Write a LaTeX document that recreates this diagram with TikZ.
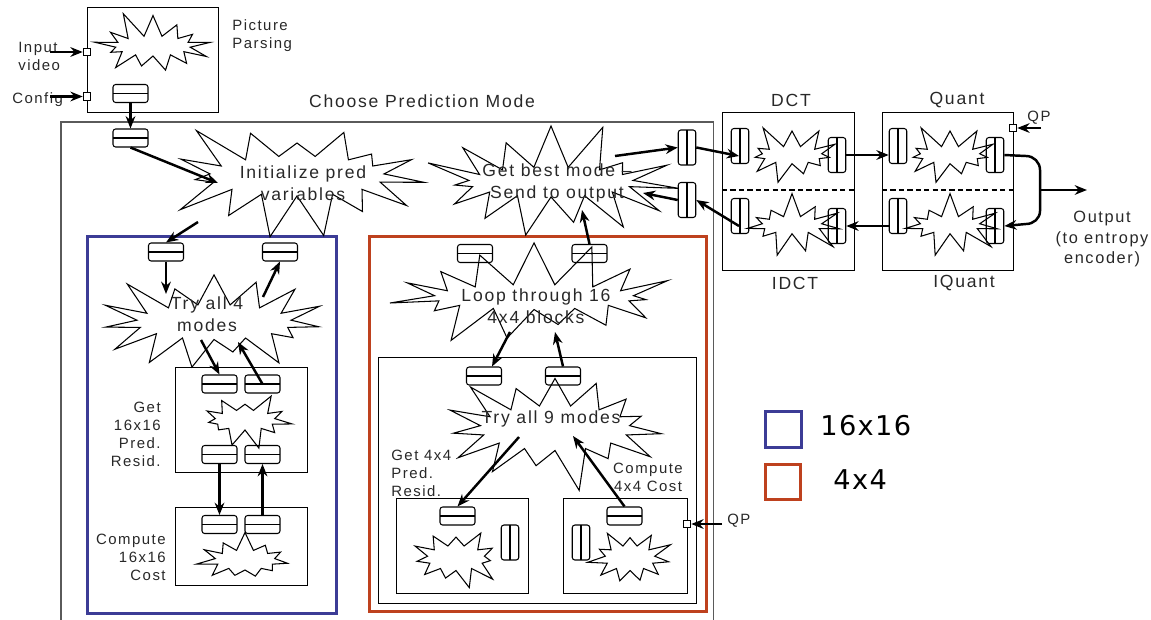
\documentclass[tikz,border=0pt]{standalone}
\usepackage{fontspec}
\setmainfont{Liberation Sans}[LetterSpace=10]
\newfontfamily\legendfont{DejaVu Sans}[LetterSpace=5]
\usetikzlibrary{shapes.symbols,arrows.meta,calc}
\definecolor{boxblue}{RGB}{60,60,150}
\definecolor{boxred}{RGB}{190,65,30}
\definecolor{framegray}{RGB}{90,90,90}
\definecolor{txt}{RGB}{40,40,40}
\tikzset{
  hcaps/.style={draw, rounded corners=1.5pt, minimum width=0.7cm, minimum height=0.36cm, inner sep=0pt, line width=0.6pt,
    path picture={\draw[line width=0.6pt] (path picture bounding box.west) -- (path picture bounding box.east);}},
  vcaps/.style={draw, rounded corners=1.5pt, minimum width=0.35cm, minimum height=0.7cm, inner sep=0pt, line width=0.6pt,
    path picture={\draw[line width=0.6pt] (path picture bounding box.north) -- (path picture bounding box.south);}},
  portbox/.style={draw, minimum size=0.15cm, inner sep=0pt, line width=0.6pt, fill=white},
  burst/.style={starburst, draw, line width=0.6pt, inner sep=0pt},
  arr/.style={-{Stealth[length=7pt,width=5.5pt]}, line width=1.4pt},
  lbl/.style={inner sep=0pt, text=txt, font=\fontsize{8.5}{10.2}\selectfont},
  mlbl/.style={inner sep=0pt, text=txt, align=center, font=\fontsize{10}{12.2}\selectfont},
  framebox/.style={draw, line width=0.6pt, inner sep=0pt, anchor=north west},
  dashsep/.style={line width=1.3pt, dash pattern=on 3pt off 1.8pt},
}
\begin{document}
\begin{tikzpicture}[x=0.02cm,y=-0.02cm]
\useasboundingbox (0,0) rectangle (1151,619);
% ---------- frames ----------
\node[framebox, minimum width=2.62cm, minimum height=2.10cm] (pp) at (87,7) {};
\node[framebox, draw=framegray, line width=0.9pt, minimum width=13.06cm, minimum height=10.0cm] (main) at (60,121) {};
\node[framebox, minimum width=2.64cm, minimum height=3.16cm] (dct) at (722,112) {};
\node[framebox, minimum width=2.62cm, minimum height=3.16cm] (quant) at (882,112) {};
\node[framebox, draw=boxblue, line width=1.8pt, minimum width=4.98cm, minimum height=7.54cm] (blue) at (86,235) {};
\node[framebox, minimum width=2.64cm, minimum height=2.10cm] (g16) at (175,367) {};
\node[framebox, minimum width=2.64cm, minimum height=1.56cm] (k16) at (175,507) {};
\node[framebox, draw=boxred, line width=1.8pt, minimum width=6.74cm, minimum height=7.50cm] (red) at (368,235) {};
\node[framebox, minimum width=6.36cm, minimum height=4.92cm] (in9) at (378,357) {};
\node[framebox, minimum width=2.64cm, minimum height=1.90cm] (s4l) at (396,498) {};
\node[framebox, minimum width=2.48cm, minimum height=1.90cm] (s4r) at (563,498) {};
\node[framebox, draw=boxblue, line width=1.8pt, minimum size=0.72cm] (legb) at (764,410) {};
\node[framebox, draw=boxred, line width=1.8pt, minimum size=0.70cm] (legr) at (764,463) {};
\draw[dashsep] (722,190) -- (854,190);
\draw[dashsep] (882,190) -- (1013,190);
% ---------- starbursts ----------
\node[burst, starburst points=13, starburst point height=0.55cm, random starburst=11, minimum width=2.6cm, minimum height=1.5cm] (sPP) at (153,46) {};
\node[burst, starburst points=15, starburst point height=1.0cm, random starburst=23, minimum width=5.5cm, minimum height=2.8cm] (sInit) at (297,176) {};
\node[burst, starburst points=15, starburst point height=1.0cm, random starburst=37, minimum width=5.3cm, minimum height=2.6cm] (sBest) at (551,182) {};
\node[burst, starburst points=11, starburst point height=0.5cm, random starburst=5, minimum width=2.2cm, minimum height=1.35cm] (sD1) at (792,155) {};
\node[burst, starburst points=11, starburst point height=0.5cm, random starburst=7, minimum width=2.2cm, minimum height=1.35cm] (sD2) at (792,225) {};
\node[burst, starburst points=11, starburst point height=0.5cm, random starburst=5, minimum width=2.2cm, minimum height=1.35cm] (sQ1) at (950,155) {};
\node[burst, starburst points=11, starburst point height=0.5cm, random starburst=7, minimum width=2.2cm, minimum height=1.35cm] (sQ2) at (950,225) {};
\node[burst, starburst points=15, starburst point height=0.9cm, random starburst=41, minimum width=4.9cm, minimum height=2.5cm] (sTry4) at (214,322) {};
\node[burst, starburst points=11, starburst point height=0.4cm, random starburst=13, minimum width=2.0cm, minimum height=1.2cm] (sG16) at (245,420) {};
\node[burst, starburst points=11, starburst point height=0.4cm, random starburst=17, minimum width=2.0cm, minimum height=1.2cm] (sK16) at (245,560) {};
\node[burst, starburst points=15, starburst point height=0.9cm, random starburst=53, minimum width=5.8cm, minimum height=2.3cm] (sLoop) at (534,297) {};
\node[burst, starburst points=15, starburst point height=0.9cm, random starburst=61, minimum width=4.8cm, minimum height=2.7cm] (sTry9) at (555,428) {};
\node[burst, starburst points=11, starburst point height=0.4cm, random starburst=19, minimum width=1.95cm, minimum height=1.3cm] (sS4l) at (456,558) {};
\node[burst, starburst points=11, starburst point height=0.4cm, random starburst=29, minimum width=1.8cm, minimum height=1.3cm] (sS4r) at (630,558) {};
% ---------- capsules ----------
\node[hcaps] (cpp) at (130.5,93.5) {};
\node[hcaps] (cm) at (130.5,138) {};
\node[hcaps] (c16a) at (166,252) {};
\node[hcaps] (c16b) at (280,252) {};
\node[hcaps] (g16a) at (219.5,384) {};
\node[hcaps] (g16b) at (262.5,384) {};
\node[hcaps] (g16c) at (219.5,454.5) {};
\node[hcaps] (g16d) at (262.5,454.5) {};
\node[hcaps] (k16a) at (219.5,524.5) {};
\node[hcaps] (k16b) at (262.5,524.5) {};
\node[hcaps] (r1) at (475,253.5) {};
\node[hcaps] (r2) at (589.5,253.5) {};
\node[hcaps] (t9a) at (484,376) {};
\node[hcaps] (t9b) at (563,376) {};
\node[hcaps] (s4a) at (457.5,516) {};
\node[hcaps] (s4b) at (624.5,516) {};
\node[vcaps] (s4av) at (510,542.5) {};
\node[vcaps] (s4bv) at (581,542.5) {};
\node[vcaps] (v1) at (687,147.5) {};
\node[vcaps] (v2) at (687,200) {};
\node[vcaps] (dA) at (740,146) {};
\node[vcaps] (dB) at (837,155) {};
\node[vcaps] (dC) at (740,216) {};
\node[vcaps] (dD) at (837,226) {};
\node[vcaps] (qA) at (898,146) {};
\node[vcaps] (qB) at (995,155) {};
\node[vcaps] (qC) at (898,216) {};
\node[vcaps] (qD) at (995,226) {};
% ---------- ports ----------
\node[portbox] (p1) at (87,52) {};
\node[portbox] (p2) at (87,96.5) {};
\node[portbox] (p3) at (687,524) {};
\node[portbox] (p4) at (1013,128) {};
% ---------- texts ----------
\node[lbl, anchor=north west, align=left] (tPP) at (232,19) {Picture\\Parsing};
\node[lbl, anchor=west, align=left] (tIn) at (18,56) {Input\\video};
\node[lbl, anchor=west] (tCfg) at (12,100) {Config};
\node[mlbl] (tChoose) at (422,101) {Choose Prediction Mode};
\node[mlbl] (tInit) at (303,183) {Initialize pred\\variables};
\node[mlbl] (tBest) at (557,183) {Get best mode --\\Send to output};
\node[mlbl] (tTry4) at (207,314) {Try all 4\\modes};
\node[lbl, anchor=east, align=right] (tG16) at (161,434) {Get\\16x16\\Pred.\\Resid.};
\node[lbl, anchor=east, align=right] (tK16) at (166,557) {Compute\\16x16\\Cost};
\node[mlbl] (tLoop) at (536,306) {Loop through 16\\4x4 blocks};
\node[mlbl] (tTry9) at (551,419) {Try all 9 modes};
\node[lbl, anchor=west, align=left] (tG4) at (391,473) {Get 4x4\\Pred.\\Resid.};
\node[lbl, align=center] (tK4) at (648,477) {Compute\\4x4 Cost};
\node[lbl, anchor=west] (tQP2) at (727,521) {QP};
\node[lbl] (tQP1) at (1039,118) {QP};
\node[mlbl] (tDCT) at (791,100) {DCT};
\node[mlbl] (tIDCT) at (795,283) {IDCT};
\node[mlbl] (tQ) at (957,100) {Quant};
\node[mlbl] (tIQ) at (964,283) {IQuant};
\node[mlbl, font=\fontsize{9.3}{11.6}\selectfont] (tOut) at (1102,239) {Output\\(to entropy\\encoder)};
\node[inner sep=0pt, anchor=west, font=\legendfont\fontsize{15.5}{18}\selectfont] (tL16) at (820,426) {16x16};
\node[inner sep=0pt, anchor=west, font=\legendfont\fontsize{15.5}{18}\selectfont] (tL4) at (833,480) {4x4};
% ---------- free ends ----------
\coordinate (inA) at (50,52);
\coordinate (cfA) at (50,96.5);
\coordinate (initA) at (218,183);
\coordinate (initB) at (198,222);
\coordinate (try4A) at (166,294);
\coordinate (try4B) at (263,297);
\coordinate (try4C) at (201,340);
\coordinate (try4D) at (238,342);
\coordinate (bestA) at (582,210);
\coordinate (bestB) at (615,156);
\coordinate (bestC) at (643,193);
\coordinate (loopA) at (510,332);
\coordinate (loopB) at (555,332);
\coordinate (try9A) at (519,437);
\coordinate (try9B) at (573,436);
\coordinate (qp2A) at (722,524);
\coordinate (qp1A) at (1041,128);
\coordinate (oJ) at (1040,190);
\coordinate (oE) at (1087,190);
% ---------- arrows ----------
\draw[arr] (inA) -- (p1.west);
\draw[arr] (cfA) -- (p2.west);
\draw[arr] (cpp.south) -- (cm.north);
\draw[arr] (cm.south) -- (initA);
\draw[arr] (initB) -- (c16a.north);
\draw[arr] (c16a.south) -- (try4A);
\draw[arr] (try4B) -- (c16b.south);
\draw[arr] (try4C) -- (g16a.north);
\draw[arr] (g16b.center) -- (try4D);
\draw[arr] (g16c.south) -- (k16a.north);
\draw[arr] (k16b.north) -- (g16d.south);
\draw[arr] (r2.north) -- (bestA);
\draw[arr] (loopA) -- ($(t9a.north)+(8,0)$);
\draw[arr] (t9b.north) -- (loopB);
\draw[arr] (try9A) -- (s4a.north);
\draw[arr] (s4b.north) -- (try9B);
\draw[arr] (qp2A) -- (p3.east);
\draw[arr] (bestB) -- (v1.west);
\draw[arr] (v2.west) -- (bestC);
\draw[arr] (v1.east) -- ($(dA.center)+(-1,10)$);
\draw[arr] (dB.east) -- (dB.east -| qA.west);
\draw[arr] (qB.east) -- (1026,156) to[out=0,in=90] (oJ |- 0,170) -- (oJ |- 0,211) to[out=-90,in=0] (1026,224) -- (qD.east);
\draw[arr] (oJ) -- (oE);
\draw[arr] (qp1A) -- (p4.east);
\draw[arr] (qC.west |- dD.east) -- (dD.east);
\draw[arr] ($(dC.center)+(-1,10)$) -- (v2.east);
\end{tikzpicture}
\end{document}
